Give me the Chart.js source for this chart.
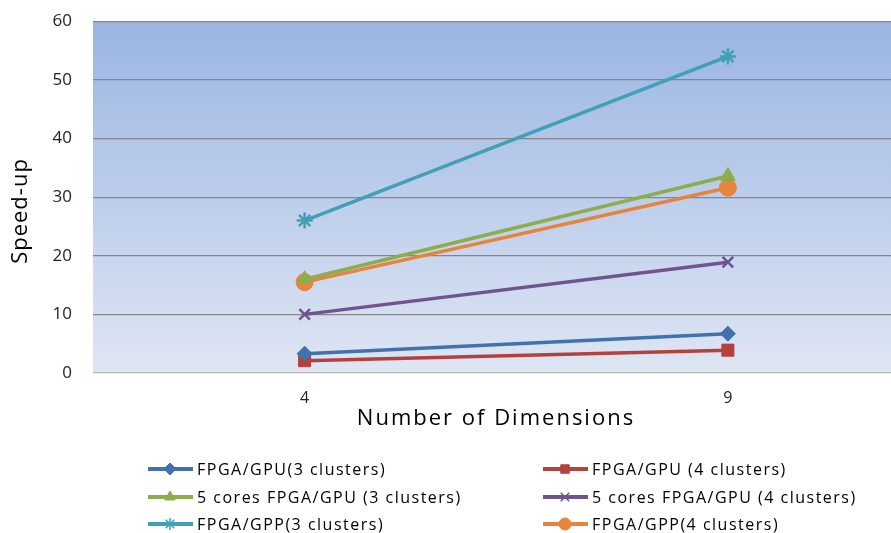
<!DOCTYPE html>
<html>
<head>
<meta charset="utf-8">
<script src="https://cdn.jsdelivr.net/npm/chart.js@4/dist/chart.umd.min.js"></script>
<style>
  html, body { margin: 0; padding: 0; background: #fff; }
  #wrap { position: relative; width: 891px; height: 533px; overflow: hidden; }
  #wrap canvas { position: absolute; left: 0; top: -10px; }
</style>
</head>
<body>
<div id="wrap"><canvas id="c" width="950" height="543"></canvas></div>
<script>
// Categories and series
const dimensions = ['4', '9'];
const fpgaGpu3 = [3.3, 6.7];
const fpgaGpu4 = [2.1, 3.9];
const cores5FpgaGpu3 = [16.0, 33.6];
const cores5FpgaGpu4 = [10.0, 18.9];
const fpgaGpp3 = [26.0, 54.0];
const fpgaGpp4 = [15.5, 31.6];
const yTicks = [0, 10, 20, 30, 40, 50, 60];

const seriesNames = [
  'FPGA/GPU(3 clusters)',
  'FPGA/GPU (4 clusters)',
  '5 cores FPGA/GPU (3 clusters)',
  '5 cores FPGA/GPU (4 clusters)',
  'FPGA/GPP(3 clusters)',
  'FPGA/GPP(4 clusters)'
];

const FONT = "'Open Sans', 'Liberation Sans', sans-serif";
// the canvas sits 10px above the visible frame
const TOP_SHIFT = 10;

function series(label, data, color, style, radius, bw) {
  return {
    label, data,
    borderColor: color,
    backgroundColor: color,
    pointBackgroundColor: color,
    pointBorderColor: color,
    pointStyle: style,
    pointRadius: radius,
    pointHoverRadius: radius,
    pointBorderWidth: bw,
    borderWidth: 3.5,
    tension: 0
  };
}

const datasets = [
  series(seriesNames[0], fpgaGpu3, '#4272ad', 'rectRot', 7.5, 1),
  series(seriesNames[1], fpgaGpu4, '#b3423f', 'rect', 8.5, 1),
  series(seriesNames[2], cores5FpgaGpu3, '#8cad4d', 'triangle', 8.5, 1),
  series(seriesNames[3], cores5FpgaGpu4, '#71538f', 'crossRot', 7.5, 2.5),
  series(seriesNames[4], fpgaGpp3, '#3fa0b6', 'star', 8, 2.5),
  series(seriesNames[5], fpgaGpp4, '#e6843b', 'circle', 8.5, 1)
];

// Gradient fill behind the plot area
const plotBackground = {
  id: 'plotBackground',
  beforeDraw(chart) {
    const { ctx, chartArea: a } = chart;
    const g = ctx.createLinearGradient(0, a.top, 0, a.bottom);
    g.addColorStop(0, '#9ab5e2');
    g.addColorStop(1, '#dfe6f4');
    ctx.save();
    ctx.fillStyle = g;
    ctx.fillRect(a.left, a.top, a.right - a.left, a.bottom - a.top);
    ctx.restore();
  }
};

// Axis titles and the two-column legend underneath
const annotations = {
  id: 'annotations',
  afterDraw(chart) {
    const ctx = chart.ctx;
    ctx.save();
    ctx.translate(0, TOP_SHIFT);
    ctx.fillStyle = '#000';
    ctx.font = '22px ' + FONT;
    ctx.letterSpacing = '2px';
    ctx.textAlign = 'center';
    ctx.textBaseline = 'middle';
    ctx.fillText('Number of Dimensions', 496, 419);
    ctx.save();
    ctx.letterSpacing = '1px';
    ctx.translate(21, 211);
    ctx.rotate(-Math.PI / 2);
    ctx.fillText('Speed-up', 0, 0);
    ctx.restore();

    const cols = [148, 543];
    const rows = [469, 497, 524];
    ctx.font = '16px ' + FONT;
    ctx.letterSpacing = '1.5px';
    ctx.textAlign = 'left';
    chart.data.datasets.forEach((ds, i) => {
      const x = cols[i % 2];
      const y = rows[Math.floor(i / 2)];
      ctx.strokeStyle = ds.borderColor;
      ctx.lineWidth = 4;
      ctx.beginPath();
      ctx.moveTo(x, y);
      ctx.lineTo(x + 45, y);
      ctx.stroke();
      const thin = ds.pointStyle === 'crossRot' || ds.pointStyle === 'star';
      ctx.save();
      ctx.fillStyle = ds.backgroundColor;
      ctx.strokeStyle = ds.borderColor;
      ctx.lineWidth = thin ? 1.5 : 1;
      Chart.helpers.drawPoint(ctx, {
        pointStyle: ds.pointStyle,
        radius: 6,
        rotation: 0,
        borderWidth: thin ? 1.5 : 1
      }, x + 22, y);
      ctx.restore();
      ctx.fillStyle = '#000';
      ctx.fillText(ds.label, x + 49, y + 1);
    });
    ctx.restore();
  }
};

new Chart(document.getElementById('c'), {
  type: 'line',
  data: { labels: dimensions, datasets },
  options: {
    responsive: false,
    animation: false,
    layout: { padding: { top: 0, left: 0, right: 7, bottom: 0 } },
    plugins: { legend: { display: false }, tooltip: { enabled: false } },
    scales: {
      x: {
        offset: true,
        grid: { display: false, drawTicks: false },
        border: { display: false },
        ticks: { padding: 16, color: '#222', font: { family: FONT, size: 16 } },
        afterFit(s) { s.height = 160; }
      },
      y: {
        min: 0, max: 60,
        afterBuildTicks(s) { s.ticks = yTicks.map(v => ({ value: v })); },
        grid: {
          drawTicks: false,
          color: c => c.tick && c.tick.value === 0 ? '#b4b4b4' : '#868686',
          lineWidth: 1.2
        },
        border: { display: false },
        ticks: { padding: 21, color: '#222', font: { family: FONT, size: 17 } },
        afterFit(s) { s.width = 93; }
      }
    }
  },
  plugins: [plotBackground, annotations]
});
</script>
</body>
</html>
